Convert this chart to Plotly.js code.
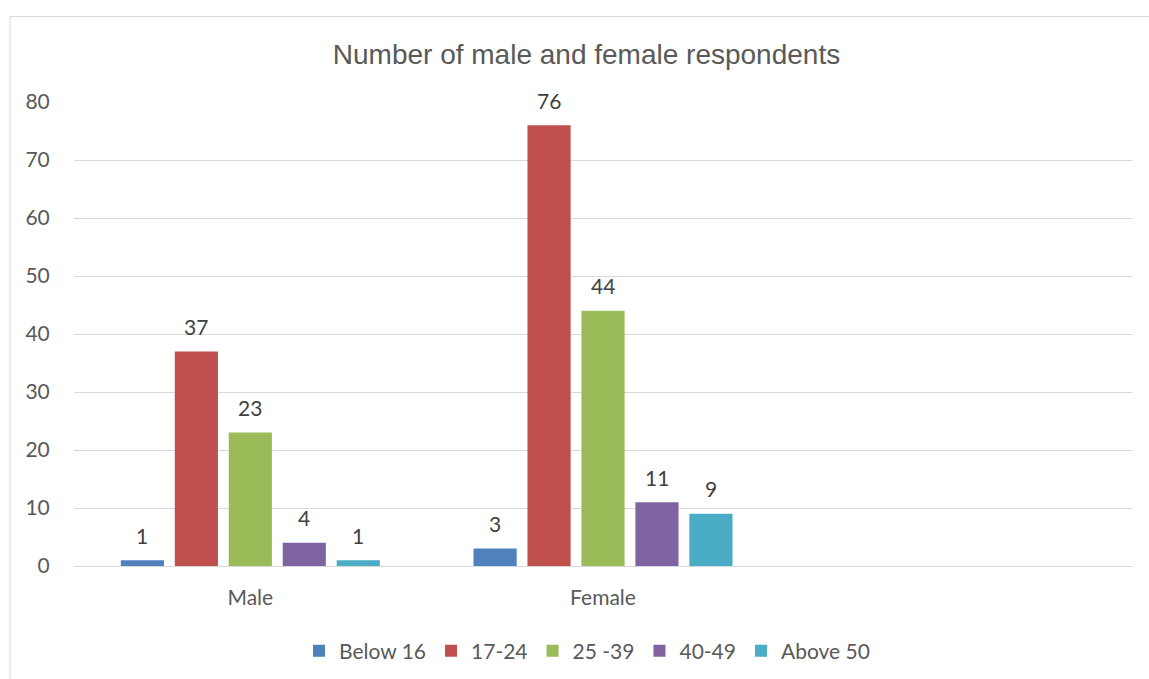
<!DOCTYPE html>
<html>
<head>
<meta charset="utf-8">
<script src="https://cdn.plot.ly/plotly-3.0.1.min.js"></script>
<style>
  html, body { margin: 0; padding: 0; background: #ffffff; }
  #chart { width: 1149px; height: 679px; }
</style>
</head>
<body>
<div id="chart"></div>
<script>
// Respondents by gender and age band
const genders = ['Male', 'Female'];
const ageBands = ['Below 16', '17-24', '25 -39', '40-49', 'Above 50'];
const below16 = [1, 3];
const age17to24 = [37, 76];
const age25to39 = [23, 44];
const age40to49 = [4, 11];
const above50 = [1, 9];
const yTicks = [0, 10, 20, 30, 40, 50, 60, 70, 80];

const seriesValues = [below16, age17to24, age25to39, age40to49, above50];
const colors = ['#4f81bd', '#c0504d', '#9bbb59', '#8064a2', '#4bacc6'];
const baseFont = 'Lato, "Open Sans", sans-serif';

const BARGAP = 0.235;
const traces = ageBands.map((name, i) => ({
  type: 'bar',
  name: name,
  x: genders,
  y: seriesValues[i],
  marker: { color: colors[i], line: { width: 0 } },
  hoverinfo: 'x+y+name'
}));

// Value labels sit above each bar; a bar's centre on the category axis is
// its category index plus its slot offset inside the group.
const slot = (1 - BARGAP) / ageBands.length;
const valueLabels = [];
seriesValues.forEach((vals, i) => {
  vals.forEach((v, j) => {
    valueLabels.push({
      x: j + (i - (ageBands.length - 1) / 2) * slot,
      y: v,
      xref: 'x', yref: 'y',
      text: String(v),
      showarrow: false,
      yanchor: 'middle',
      yshift: 25,
      font: { family: baseFont, size: 21, color: '#404040' }
    });
  });
});

const W = 1149, H = 679;
const m = { l: 73.5, r: 16.5, t: 102, b: 113 };
const pw = W - m.l - m.r, ph = H - m.t - m.b;
// pixel -> paper helpers for the outer frame
const px = v => (v - m.l) / pw;
const py = v => (H - m.b - v) / ph;

const layout = {
  width: W,
  height: H,
  margin: m,
  paper_bgcolor: '#ffffff',
  plot_bgcolor: '#ffffff',
  barmode: 'group',
  bargap: BARGAP,
  bargroupgap: 0.2,
  showlegend: true,
  annotations: valueLabels,
  title: {
    text: 'Number of male and female respondents',
    font: { family: 'Liberation Sans, Arial, sans-serif', size: 28, color: '#595959' },
    x: 586.5 / W,
    xanchor: 'center',
    y: 1 - 54 / H,
    yanchor: 'middle'
  },
  xaxis: {
    type: 'category',
    range: [-0.5, 2.5],
    showgrid: false,
    zeroline: false,
    showline: false,
    automargin: false,
    ticks: 'outside',
    ticklen: 13,
    tickcolor: 'rgba(0,0,0,0)',
    tickfont: { family: baseFont, size: 21, color: '#595959' },
    fixedrange: true
  },
  yaxis: {
    range: [0, 80],
    tickvals: yTicks,
    ticktext: yTicks.map(String),
    showgrid: true,
    gridcolor: '#d9d9d9',
    gridwidth: 1,
    zeroline: true,
    zerolinecolor: '#d9d9d9',
    zerolinewidth: 1,
    showline: false,
    automargin: false,
    ticks: 'outside',
    ticklen: 19,
    tickcolor: 'rgba(0,0,0,0)',
    tickfont: { family: baseFont, size: 21, color: '#595959' },
    fixedrange: true
  },
  legend: {
    orientation: 'h',
    xref: 'container',
    yref: 'container',
    x: 587 / W,
    xanchor: 'center',
    y: 1 - 651 / H,
    yanchor: 'middle',
    font: { family: baseFont, size: 21, color: '#595959' },
    itemwidth: 30,
    traceorder: 'normal'
  },
  shapes: [{
    type: 'rect',
    xref: 'paper', yref: 'paper',
    x0: px(9.5), x1: px(1200),
    y0: py(16.5), y1: py(760),
    line: { color: '#d9d9d9', width: 1 },
    fillcolor: 'rgba(0,0,0,0)',
    layer: 'below'
  }]
};

Plotly.newPlot('chart', traces, layout, { displayModeBar: false, staticPlot: true });
</script>
</body>
</html>
